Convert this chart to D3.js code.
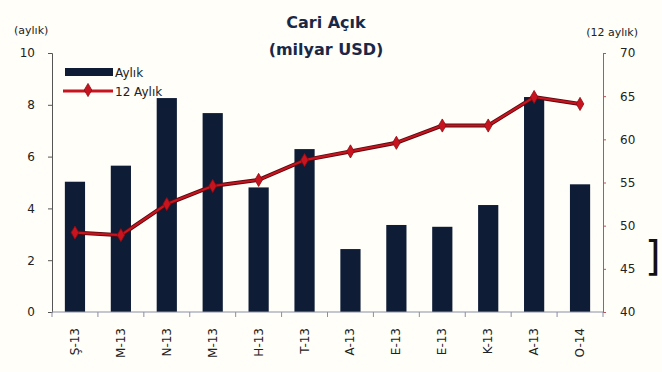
<!DOCTYPE html>
<html>
<head>
<meta charset="utf-8">
<script src="https://cdn.jsdelivr.net/npm/d3@7"></script>
<style>
  body { margin: 0; background: #fffef8; }
  svg { display: block; }
  text { font-family: "DejaVu Sans", Verdana, sans-serif; }
</style>
</head>
<body>
<div id="chart"></div>
<script>
// Data
let months = ["Ş-13", "M-13", "N-13", "M-13", "H-13", "T-13", "A-13", "E-13", "E-13", "K-13", "A-13", "O-14"];
let monthly = [5.03, 5.65, 8.26, 7.68, 4.81, 6.29, 2.43, 3.36, 3.29, 4.13, 8.3, 4.93];
let annual = [49.2, 48.9, 52.5, 54.6, 55.3, 57.6, 58.6, 59.6, 61.6, 61.6, 64.9, 64.1];
let leftTicks = [0, 2, 4, 6, 8, 10];
let rightTicks = [40, 45, 50, 55, 60, 65, 70];

let width = 662, height = 372;
let plotLeft = 52, plotRight = 603, plotTop = 53, plotBottom = 312;

let navy = "#0e1c36";
let red = "#c8141e";

let svg = d3.select("#chart").append("svg")
  .attr("width", width)
  .attr("height", height);

svg.append("rect").attr("width", width).attr("height", height).attr("fill", "#fffef8");

// Scales
let x = d3.scaleBand().domain(d3.range(months.length)).range([plotLeft, plotRight]).paddingInner(0.56).paddingOuter(0.28);
let yL = d3.scaleLinear().domain([0, 10]).range([plotBottom, plotTop]);
let yR = d3.scaleLinear().domain([40, 70]).range([plotBottom, plotTop]);

// Bars
svg.selectAll(".bar")
  .data(monthly)
  .enter()
  .append("rect")
  .attr("class", "bar")
  .attr("x", (d, i) => x(i))
  .attr("width", x.bandwidth())
  .attr("y", d => yL(d))
  .attr("height", d => plotBottom - yL(d))
  .attr("fill", navy);

// Left axis
let leftAxis = svg.append("g")
  .attr("transform", `translate(${plotLeft},0)`)
  .call(d3.axisLeft(yL).tickValues(leftTicks).tickSize(4).tickPadding(13));
leftAxis.select(".domain").attr("stroke", "#555");
leftAxis.selectAll(".tick line").attr("stroke", "#555");
leftAxis.selectAll(".tick text").attr("font-size", "12px").attr("fill", "#222");

// Right axis
let rightAxis = svg.append("g")
  .attr("transform", `translate(${plotRight},0)`)
  .call(d3.axisRight(yR).tickValues(rightTicks).tickSize(3).tickPadding(14));
rightAxis.select(".domain").attr("stroke", "#c0505a");
rightAxis.selectAll(".tick line").attr("stroke", "#c0505a");
rightAxis.selectAll(".tick text").attr("font-size", "12px").attr("fill", "#222");

// Bottom axis with ticks between categories
let xb = svg.append("g").attr("transform", `translate(0,${plotBottom})`);
xb.append("line").attr("x1", plotLeft).attr("x2", plotRight).attr("stroke", "#8a8fa8").attr("stroke-width", 1.2);
xb.selectAll(".sep")
  .data(d3.range(months.length + 1))
  .enter()
  .append("line")
  .attr("x1", i => plotLeft + i * (plotRight - plotLeft) / months.length)
  .attr("x2", i => plotLeft + i * (plotRight - plotLeft) / months.length)
  .attr("y1", 0).attr("y2", 5)
  .attr("stroke", "#8a8fa8");
xb.selectAll(".lbl")
  .data(months)
  .enter()
  .append("text")
  .attr("transform", (d, i) => `translate(${x(i) + x.bandwidth() / 2 + 4},${16}) rotate(-90)`)
  .attr("text-anchor", "end")
  .attr("font-size", "12px")
  .attr("fill", "#222")
  .text(d => d);

// Line
let line = d3.line()
  .x((d, i) => x(i) + x.bandwidth() / 2)
  .y(d => yR(d));

svg.append("path")
  .datum(annual)
  .attr("d", line)
  .attr("fill", "none")
  .attr("stroke", "#5a0a10")
  .attr("stroke-width", 4);
svg.append("path")
  .datum(annual)
  .attr("d", line)
  .attr("fill", "none")
  .attr("stroke", red)
  .attr("stroke-width", 2.2);

let diamond = d3.symbol().type(d3.symbolDiamond).size(50);
svg.selectAll(".mk")
  .data(annual)
  .enter()
  .append("path")
  .attr("d", diamond)
  .attr("transform", (d, i) => `translate(${x(i) + x.bandwidth() / 2},${yR(d)})`)
  .attr("fill", red)
  .attr("stroke", "#8a0c14")
  .attr("stroke-width", 0.8);

// Legend
let lg = svg.append("g");
lg.append("rect").attr("x", 65).attr("y", 68).attr("width", 48).attr("height", 8).attr("fill", navy);
lg.append("text").attr("x", 115).attr("y", 77).attr("font-size", "12px").attr("fill", "#222").text("Aylık");
lg.append("line").attr("x1", 63).attr("x2", 113).attr("y1", 91).attr("y2", 91).attr("stroke", red).attr("stroke-width", 3);
lg.append("path").attr("d", diamond).attr("transform", "translate(88,90)").attr("fill", red).attr("stroke", "#8a0c14").attr("stroke-width", 0.8);
lg.append("text").attr("x", 115).attr("y", 96).attr("font-size", "12px").attr("fill", "#222").text("12 Aylık");

// Titles
svg.append("text").attr("x", 326).attr("y", 28).attr("text-anchor", "middle")
  .attr("font-size", "16px").attr("font-weight", "bold").attr("fill", "#1a2848").text("Cari Açık");
svg.append("text").attr("x", 326).attr("y", 55).attr("text-anchor", "middle")
  .attr("font-size", "16px").attr("font-weight", "bold").attr("fill", "#1a2848").text("(milyar USD)");
svg.append("text").attr("x", 14).attr("y", 34).attr("font-size", "11px").attr("fill", "#222").text("(aylık)");
svg.append("text").attr("x", 638).attr("y", 36).attr("text-anchor", "end").attr("font-size", "11px").attr("fill", "#222").text("(12 aylık)");

// Scan artefact at the right edge
svg.append("text").attr("x", 645).attr("y", 270).attr("font-family", "DejaVu Serif, serif")
  .attr("font-size", "40px").attr("fill", "#111").text("]");
</script>
</body>
</html>
